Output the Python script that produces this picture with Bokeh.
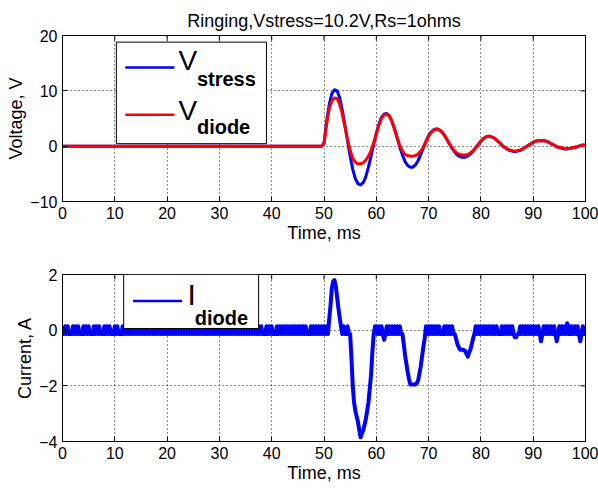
import numpy as np
from bokeh.plotting import figure
from bokeh.layouts import column
from bokeh.models import Range1d, FixedTicker, BoxAnnotation, Label
from bokeh.embed import file_html
from bokeh.resources import INLINE

# ---------------- data ----------------
TITLE = "Ringing,Vstress=10.2V,Rs=1ohms"
X_LABEL = "Time, ms"
V_LABEL = "Voltage, V"
I_LABEL = "Current, A"
X_TICKS = [0, 10, 20, 30, 40, 50, 60, 70, 80, 90, 100]
V_TICKS = [-10, 0, 10, 20]
I_TICKS = [-4, -2, 0, 2]

# voltage traces: flat 0 V until the event, then samples every 0.5 ms from 49.5 ms
t_v = [0.0] + [49.5 + 0.5 * k for k in range(102)]
v_stress = [0.0,
            0.0, 0.5, 4.5, 7.5, 9.5, 10.2, 10.0, 8.8, 6.5, 3.8,
            1.0, -1.8, -4.2, -5.9, -6.8, -7.0, -6.6, -5.5, -3.8, -1.8,
            0.3, 2.3, 4.0, 5.2, 5.8, 5.9, 5.5, 4.5, 3.1, 1.5,
            -0.2, -1.6, -2.8, -3.5, -3.8, -3.8, -3.4, -2.6, -1.5, -0.3,
            0.9, 1.9, 2.6, 3.0, 3.1, 3.0, 2.6, 2.0, 1.2, 0.4,
            -0.4, -1.1, -1.6, -1.9, -2.0, -2.0, -1.8, -1.4, -0.9, -0.3,
            0.3, 0.9, 1.4, 1.7, 1.8, 1.7, 1.5, 1.1, 0.7, 0.2,
            -0.2, -0.5, -0.8, -0.9, -1.0, -0.9, -0.8, -0.5, -0.2, 0.1,
            0.4, 0.7, 0.9, 1.0, 1.0, 1.0, 0.9, 0.7, 0.4, 0.2,
            -0.1, -0.3, -0.4, -0.5, -0.5, -0.4, -0.3, -0.2, -0.1, 0.1,
            0.2, 0.2]
v_diode = [0.0,
           0.0, 0.5, 4.0, 6.8, 8.2, 8.7, 8.6, 7.6, 5.8, 3.5,
           1.2, -0.8, -2.2, -2.9, -3.2, -3.2, -3.0, -2.5, -1.8, -0.8,
           0.6, 2.2, 3.8, 5.0, 5.7, 5.8, 5.4, 4.4, 3.0, 1.5,
           0.1, -0.9, -1.5, -1.7, -1.8, -1.8, -1.7, -1.4, -0.9, -0.2,
           0.8, 1.8, 2.5, 2.9, 3.1, 3.0, 2.6, 2.0, 1.2, 0.4,
           -0.3, -0.9, -1.3, -1.5, -1.6, -1.6, -1.5, -1.2, -0.8, -0.3,
           0.3, 0.9, 1.4, 1.7, 1.8, 1.7, 1.5, 1.1, 0.7, 0.2,
           -0.2, -0.5, -0.7, -0.8, -0.9, -0.8, -0.7, -0.5, -0.2, 0.1,
           0.4, 0.7, 0.9, 1.0, 1.0, 1.0, 0.9, 0.7, 0.4, 0.2,
           -0.1, -0.2, -0.3, -0.4, -0.4, -0.4, -0.3, -0.2, -0.1, 0.1,
           0.2, 0.1]

# diode current: samples every 0.25 ms from 0 to 100 ms (one row = 5 ms)
t_i = [0.25 * k for k in range(401)]
i_diode = [
    # 0-5
    0.14, -0.14, 0.14, -0.14, 0.14, -0.14, -0.14, -0.14, 0.14, -0.14,
    0.14, -0.14, 0.14, -0.14, -0.14, -0.14, 0.14, -0.14, 0.14, -0.14,
    # 5-10
    0.14, -0.14, -0.14, -0.14, 0.14, -0.14, 0.14, -0.14, 0.14, -0.14,
    -0.14, -0.14, 0.14, -0.14, 0.14, -0.14, 0.14, -0.14, -0.14, -0.14,
    # 10-15
    0.14, -0.14, 0.14, -0.14, -0.14, -0.14, 0.14, -0.14, 0.14, -0.14,
    0.14, -0.14, 0.14, -0.14, 0.14, -0.14, 0.14, -0.14, 0.14, -0.14,
    # 15-20
    0.14, -0.14, 0.14, -0.14, 0.14, -0.14, 0.14, -0.14, 0.14, -0.14,
    0.14, -0.14, 0.14, -0.14, 0.14, -0.14, 0.14, -0.14, 0.14, -0.14,
    # 20-25
    0.14, -0.14, 0.14, -0.14, 0.14, -0.14, 0.14, -0.14, 0.14, -0.14,
    0.14, -0.14, 0.14, -0.14, 0.14, -0.14, 0.14, -0.14, 0.14, -0.14,
    # 25-30
    0.14, -0.14, 0.14, -0.14, 0.14, -0.14, 0.14, -0.14, 0.14, -0.14,
    0.14, -0.14, 0.14, -0.14, 0.14, -0.14, 0.14, -0.14, 0.14, -0.14,
    # 30-35
    0.14, -0.14, 0.14, -0.14, 0.14, -0.14, 0.14, -0.14, 0.14, -0.14,
    0.14, -0.14, 0.14, -0.14, 0.14, -0.14, 0.14, -0.14, 0.14, -0.14,
    # 35-40
    0.14, -0.14, 0.14, -0.14, 0.14, -0.14, 0.14, -0.14, 0.14, -0.14,
    0.14, -0.14, 0.14, -0.14, -0.14, -0.14, 0.14, -0.14, 0.14, -0.14,
    # 40-45
    0.14, -0.14, -0.14, -0.14, 0.14, -0.14, 0.14, -0.14, 0.14, -0.14,
    0.14, -0.14, 0.14, -0.14, 0.14, -0.14, 0.14, -0.14, 0.14, -0.14,
    # 45-50
    0.14, -0.14, 0.14, -0.14, 0.14, -0.14, 0.14, -0.14, -0.14, -0.14,
    0.14, -0.14, 0.14, -0.14, 0.14, -0.14, 0.14, -0.14, 0.14, -0.14,
    # 50-55
    0.14, -0.14, 0.14, -0.14, 0.4, 0.9, 1.5, 1.75, 1.8, 1.6,
    1.2, 0.8, 0.45, 0.14, -0.14, 0.14, -0.14, -0.14, 0.14, -0.14,
    # 55-60
    -0.14, -1.0, -2.0, -2.6, -2.9, -3.1, -3.3, -3.6, -3.85, -3.7,
    -3.6, -3.4, -3.2, -2.9, -2.6, -2.1, -1.6, -0.8, -0.14, 0.14,
    # 60-65
    0.14, -0.14, 0.14, -0.14, 0.14, -0.14, -0.35, -0.14, 0.14, -0.14,
    0.14, -0.14, 0.14, -0.14, 0.14, -0.14, 0.14, -0.14, 0.14, -0.14,
    # 65-70
    -0.14, -0.5, -0.9, -1.2, -1.5, -1.75, -1.95, -1.95, -1.95, -1.95,
    -1.95, -1.9, -1.8, -1.55, -1.3, -0.95, -0.6, -0.3, 0.14, -0.14,
    # 70-75
    0.14, -0.14, 0.14, -0.14, 0.14, -0.14, 0.14, -0.14, 0.14, -0.14,
    -0.14, -0.14, 0.14, -0.14, 0.14, -0.14, 0.14, -0.14, 0.14, -0.14,
    # 75-80
    -0.14, -0.3, -0.5, -0.6, -0.7, -0.7, -0.7, -0.72, -0.75, -0.85,
    -0.95, -0.8, -0.7, -0.5, -0.3, -0.14, 0.14, -0.14, 0.14, -0.14,
    # 80-85
    0.14, -0.14, 0.14, -0.14, 0.14, -0.14, 0.14, -0.14, 0.14, -0.14,
    0.14, -0.14, 0.14, -0.14, -0.14, -0.14, 0.14, -0.14, 0.14, -0.14,
    # 85-90
    0.14, -0.14, 0.14, -0.14, 0.14, -0.14, -0.25, -0.25, -0.14, -0.14,
    0.14, -0.14, 0.14, -0.14, 0.14, -0.14, 0.14, -0.14, 0.14, -0.14,
    # 90-95
    0.14, -0.14, 0.14, -0.14, 0.14, -0.14, -0.4, -0.14, 0.14, -0.14,
    0.14, -0.14, 0.14, -0.14, 0.14, -0.14, 0.14, -0.14, -0.4, -0.14,
    # 95-100
    0.14, -0.14, 0.14, -0.14, 0.14, -0.14, 0.25, -0.14, 0.14, -0.14,
    0.14, -0.14, 0.14, -0.14, 0.14, -0.14, -0.4, -0.14, 0.14, -0.14,
    # 100
    -0.14]

# ---------------- style ----------------
FONT = "Liberation Sans"
BLUE = "#0000FF"
RED = "#FF0000"
FIG_W = 598


def style_fig(p, y_ticks, y_label):
    p.background_fill_color = "white"
    p.border_fill_color = "white"
    p.outline_line_color = "black"
    p.outline_line_width = 1
    for ax in p.xaxis + p.yaxis:
        ax.major_tick_in = 5
        ax.major_tick_out = 0
        ax.minor_tick_line_color = None
        ax.axis_line_color = "black"
        ax.major_tick_line_color = "black"
        ax.major_label_text_font = FONT
        ax.major_label_text_font_size = "16px"
        ax.major_label_text_color = "black"
        ax.major_label_standoff = 5
        ax.axis_label_text_font = FONT
        ax.axis_label_text_font_size = "18px"
        ax.axis_label_text_font_style = "normal"
        ax.axis_label_text_color = "black"
        ax.axis_label_standoff = 1
    p.xaxis.ticker = FixedTicker(ticks=X_TICKS)
    p.yaxis.ticker = FixedTicker(ticks=y_ticks)
    p.xaxis.axis_label = X_LABEL
    p.yaxis.axis_label = y_label
    p.grid.grid_line_color = "black"
    p.grid.grid_line_dash = "1 3"
    p.grid.grid_line_width = 1
    p.grid.grid_line_alpha = 0.9
    p.xgrid.ticker = FixedTicker(ticks=X_TICKS)
    p.ygrid.ticker = FixedTicker(ticks=y_ticks)
    # inward tick marks on the top and right edges of the box (half clipped by the frame)
    p.scatter(X_TICKS, [y_ticks[-1]] * len(X_TICKS), marker="dash", size=10,
              angle=np.pi / 2, line_color="black", line_width=1)
    p.scatter([X_TICKS[-1]] * len(y_ticks), y_ticks, marker="dash", size=10,
              line_color="black", line_width=1)


def add_text(p, x, y, txt, size, style):
    p.add_layout(Label(x=x, y=y, text=txt, text_font=FONT, text_font_size=size,
                       text_font_style=style, text_color="black",
                       text_baseline="alphabetic", text_align="left", level="overlay"))


# ---------------- top panel: voltages ----------------
p1 = figure(width=FIG_W, height=250, x_range=Range1d(0, 100),
            y_range=Range1d(V_TICKS[0], V_TICKS[-1]),
            output_backend="svg", toolbar_location=None,
            min_border_left=62, min_border_right=13,
            min_border_top=35, min_border_bottom=49, title=TITLE)
p1.title.text_font = FONT
p1.title.text_font_size = "18px"
p1.title.text_font_style = "normal"
p1.title.text_color = "black"
p1.title.align = "center"
p1.title.standoff = 10
style_fig(p1, V_TICKS, V_LABEL)

p1.line(t_v, v_stress, line_color=BLUE, line_width=3, line_join="round")
p1.line(t_v, v_diode, line_color=RED, line_width=3, line_join="round")

# legend (drawn by hand to allow subscripts)
p1.add_layout(BoxAnnotation(left=10.3, right=39.0, bottom=0.45, top=18.8,
                            fill_color="white", fill_alpha=1.0,
                            line_color="black", line_width=1, line_alpha=1.0))
p1.line([12.0, 21.4], [14.2, 14.2], line_color=BLUE, line_width=2.5, level="overlay")
p1.line([12.0, 21.4], [5.7, 5.7], line_color=RED, line_width=2.5, level="overlay")
add_text(p1, 22.2, 15.4, "V", "28px", "normal")
add_text(p1, 25.7, 12.1, "stress", "20px", "bold")
add_text(p1, 22.2, 6.4, "V", "28px", "normal")
add_text(p1, 25.7, 3.5, "diode", "20px", "bold")

# ---------------- bottom panel: current ----------------
p2 = figure(width=FIG_W, height=238, x_range=Range1d(0, 100),
            y_range=Range1d(I_TICKS[0], I_TICKS[-1]),
            output_backend="svg", toolbar_location=None,
            min_border_left=62, min_border_right=13,
            min_border_top=24, min_border_bottom=47)
style_fig(p2, I_TICKS, I_LABEL)

p2.line(t_i, i_diode, line_color=BLUE, line_width=4, line_join="round")

p2.add_layout(BoxAnnotation(left=11.7, right=37.5, bottom=0.06, top=2.0,
                            fill_color="white", fill_alpha=1.0,
                            line_color="black", line_width=1, line_alpha=1.0))
p2.line([13.5, 22.9], [1.05, 1.05], line_color=BLUE, line_width=2.5, level="overlay")
add_text(p2, 23.9, 1.27, "I", "30px", "normal")
add_text(p2, 25.3, 0.44, "diode", "20px", "bold")

layout = column(p1, p2, spacing=0)
open("out.html", "w").write(file_html(layout, INLINE))
